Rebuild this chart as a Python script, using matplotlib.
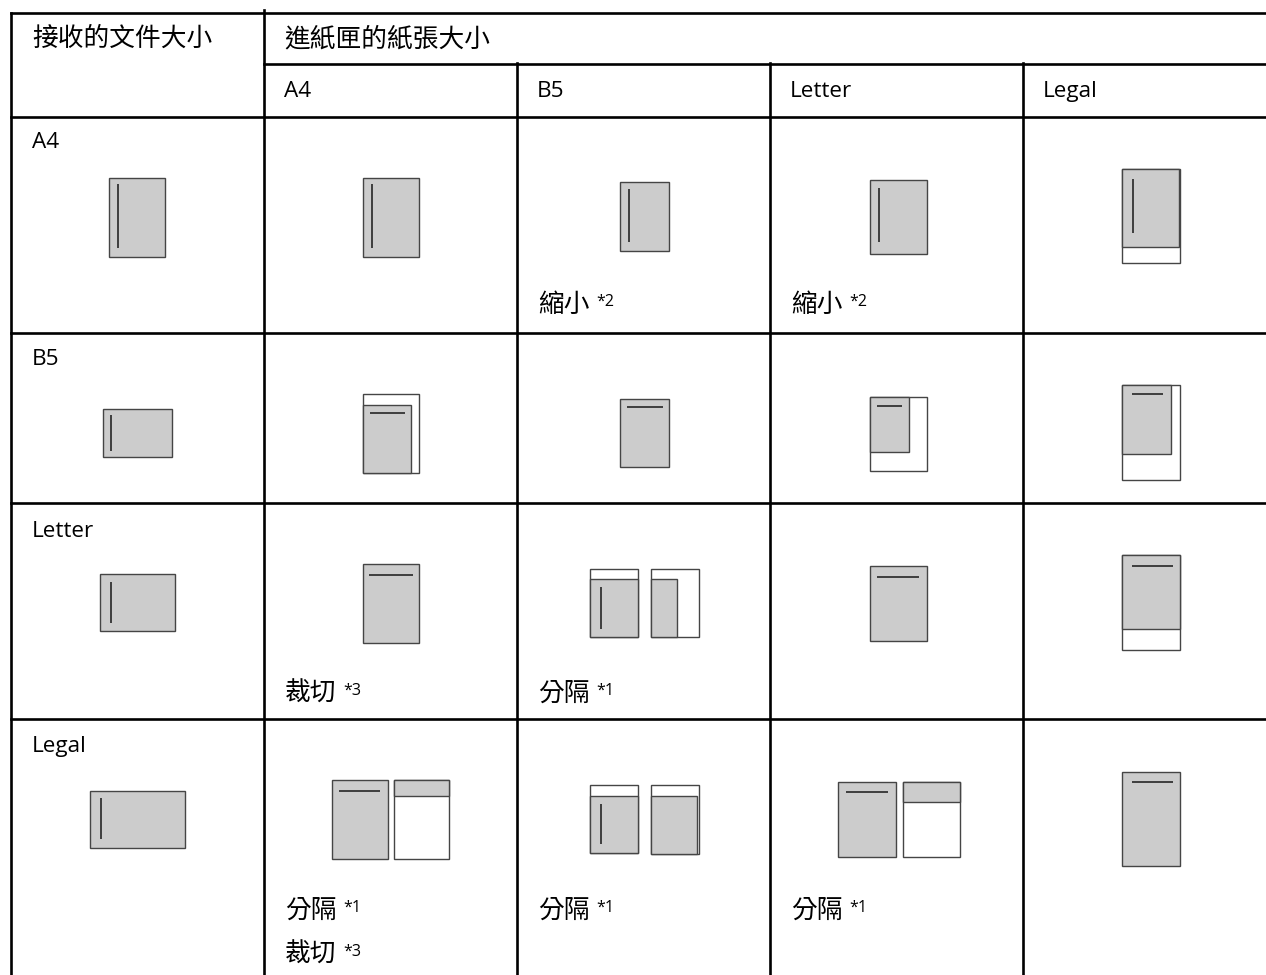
import matplotlib
matplotlib.use("Agg")
import matplotlib.pyplot as plt
from matplotlib.patches import Rectangle

# table layout (pixel units of the 1266x975 page)
col_x = [11, 264, 517, 770, 1023]
row_y = [12.7, 64, 117, 333, 503, 719]
right_x = 1275
bottom_y = 985

head_left = "接收的文件大小"
head_right = "進紙匣的紙張大小"
sizes = ["A4", "B5", "Letter", "Legal"]

# notes per cell: (row, col, [(text, footnote mark), ...])
notes = [
    (0, 2, [("縮小", "*2")]),
    (0, 3, [("縮小", "*2")]),
    (2, 1, [("裁切", "*3")]),
    (2, 2, [("分隔", "*1")]),
    (3, 1, [("分隔", "*1"), ("裁切", "*3")]),
    (3, 2, [("分隔", "*1")]),
    (3, 3, [("分隔", "*1")]),
]
note_y = [305, None, 694, 911]
note_step = 44

# paper icons: ('g' gray sheet / 'w' white sheet, x0, y0, x1, y1) and ('l', x0, y0, x1, y1)
icons = [
    # received A4
    [("g", 109, 178, 165, 257), ("l", 118, 184, 118, 248)],
    [("g", 363, 178, 419, 257), ("l", 372, 184, 372, 248)],
    [("g", 620, 182, 669, 251), ("l", 629, 189, 629, 242)],
    [("g", 870, 180, 927, 254), ("l", 879, 188, 879, 242)],
    [("w", 1122, 169, 1180, 263), ("g", 1122, 169, 1179, 247), ("l", 1133, 179, 1133, 233)],
    # received B5
    [("g", 103, 409, 172, 457), ("l", 111, 415, 111, 451)],
    [("w", 363, 394, 419, 473), ("g", 363, 405, 411, 473), ("l", 370, 413, 405, 413)],
    [("g", 620, 399, 669, 467), ("l", 627, 407, 663, 407)],
    [("w", 870, 397, 927, 471), ("g", 870, 397, 909, 452), ("l", 877, 406, 902, 406)],
    [("w", 1122, 385, 1180, 480), ("g", 1122, 385, 1171, 454), ("l", 1132, 394, 1163, 394)],
    # received Letter
    [("g", 100, 574, 175, 631), ("l", 111, 582, 111, 623)],
    [("g", 363, 564, 419, 643), ("l", 369, 575, 413, 575)],
    [("w", 590, 569, 638, 637), ("g", 590, 579, 638, 637), ("l", 601, 587, 601, 629),
     ("w", 651, 569, 699, 637), ("g", 651, 579, 677, 637)],
    [("g", 870, 566, 927, 641), ("l", 877, 577, 919, 577)],
    [("w", 1122, 555, 1180, 650), ("g", 1122, 555, 1180, 629), ("l", 1132, 566, 1173, 566)],
    # received Legal
    [("g", 90, 791, 185, 848), ("l", 101, 798, 101, 839)],
    [("g", 332, 780, 388, 859), ("l", 339, 791, 380, 791),
     ("w", 394, 780, 449, 859), ("g", 394, 780, 449, 796)],
    [("w", 590, 785, 638, 853), ("g", 590, 796, 638, 853), ("l", 601, 804, 601, 844),
     ("w", 651, 785, 699, 854), ("g", 651, 796, 697, 854)],
    [("g", 838, 782, 896, 857), ("l", 846, 792, 888, 792),
     ("w", 903, 782, 960, 857), ("g", 903, 782, 960, 802)],
    [("g", 1122, 772, 1180, 866), ("l", 1132, 782, 1173, 782)],
]

cjk = ["Noto Sans CJK TC", "DejaVu Sans"]
latin = ["Open Sans", "DejaVu Sans"]

fig = plt.figure(figsize=(12.66, 9.75), dpi=100)
ax = fig.add_axes([0, 0, 1, 1])
ax.set_xlim(0, 1266)
ax.set_ylim(975, 0)
ax.axis("off")

# grid
lw = 1.9
kw = dict(color="black", lw=lw, solid_capstyle="projecting")
ax.plot([col_x[0], right_x], [row_y[0]] * 2, **kw)
ax.plot([col_x[1], right_x], [row_y[1]] * 2, **kw)
for y in row_y[2:]:
    ax.plot([col_x[0], right_x], [y, y], **kw)
ax.plot([col_x[0]] * 2, [row_y[0], bottom_y], **kw)
ax.plot([col_x[1]] * 2, [10, bottom_y], **kw)
for x in col_x[2:]:
    ax.plot([x, x], [row_y[1] - 1.5, bottom_y], **kw)

# headers
ax.text(col_x[0] + 21, 39, head_left, family=cjk, fontsize=18.5, va="center", ha="left")
ax.text(col_x[1] + 20, 39, head_right, family=cjk, fontsize=18.5, va="center", ha="left")
for i, s in enumerate(sizes):
    ax.text(col_x[i + 1] + 20, 97, s, family=latin, fontsize=16.2, va="baseline", ha="left")

# row labels
label_base = [148.5, 365, 537, 752]
for i, s in enumerate(sizes):
    ax.text(col_x[0] + 21, label_base[i], s, family=latin, fontsize=16.2, va="baseline", ha="left")

# notes with footnote marks
for r, c, items in notes:
    for k, (txt, mark) in enumerate(items):
        x = col_x[c] + 21
        y = note_y[r] + k * note_step
        ax.text(x, y, txt, family=cjk, fontsize=18.5, va="center", ha="left")
        ax.text(x + 58, y + 1, mark, family=latin, fontsize=11.5, va="baseline", ha="left")

# icons
for icon in icons:
    for kind, x0, y0, x1, y1 in icon:
        if kind == "l":
            ax.plot([x0, x1], [y0, y1], color="#333333", lw=1.3, solid_capstyle="butt")
        else:
            fc = "#cccccc" if kind == "g" else "white"
            ax.add_patch(Rectangle((x0, y0), x1 - x0, y1 - y0, facecolor=fc,
                                   edgecolor="#454545", lw=1.0))

fig.savefig("out.png", dpi=100)
